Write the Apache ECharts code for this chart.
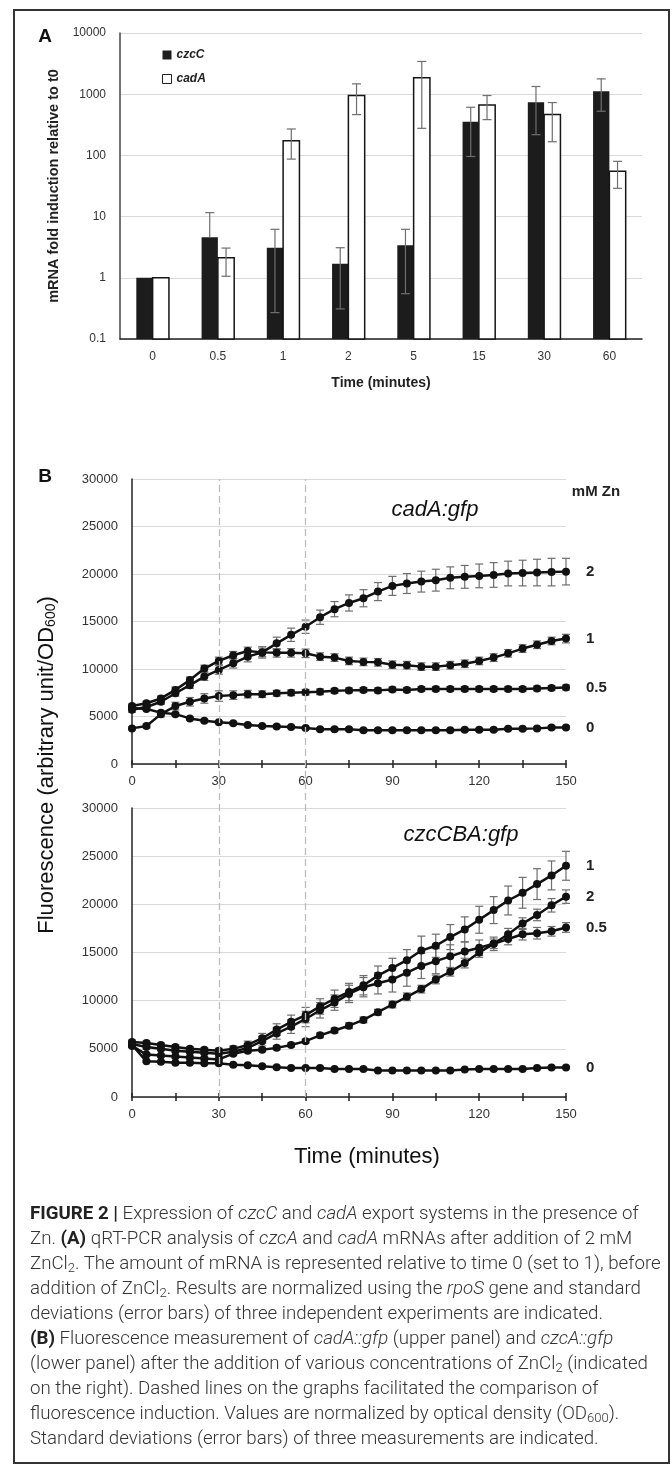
<!DOCTYPE html>
<html>
<head>
<meta charset="utf-8">
<script src="https://cdn.jsdelivr.net/npm/echarts@6/dist/echarts.min.js"></script>
<style>
  html, body { margin: 0; padding: 0; background: #fff; }
  #wrap { position: relative; width: 672px; height: 1465px; }
  #chart { position: absolute; left: 0; top: 0; width: 672px; height: 1465px; }
  #frame {
    position: absolute; left: 13px; top: 9px; width: 657px; height: 1455px;
    box-sizing: border-box; border: 2px solid #333; pointer-events: none;
  }
  #caption {
    position: absolute; left: 30px; top: 1201px;
    font-family: Roboto, "Liberation Sans", sans-serif; font-size: 18.7px; line-height: 25px;
    font-weight: 300; color: #333; white-space: nowrap;
  }
  #caption b { font-weight: 700; color: #222; }
  #caption sub { font-size: 13px; vertical-align: -3px; line-height: 0; }
</style>
</head>
<body>
<div id="wrap">
  <div id="chart"></div>
  <div id="frame"></div>
  <div id="caption">
    <b>FIGURE 2 |</b> Expression of <i>czcC</i> and <i>cadA</i> export systems in the presence of<br>
    Zn. <b>(A)</b> qRT-PCR analysis of <i>czcA</i> and <i>cadA</i> mRNAs after addition of 2 mM<br>
    ZnCl<sub>2</sub>. The amount of mRNA is represented relative to time 0 (set to 1), before<br>
    addition of ZnCl<sub>2</sub>. Results are normalized using the <i>rpoS</i> gene and standard<br>
    deviations (error bars) of three independent experiments are indicated.<br>
    <b>(B)</b> Fluorescence measurement of <i>cadA::gfp</i> (upper panel) and <i>czcA::gfp</i><br>
    (lower panel) after the addition of various concentrations of ZnCl<sub>2</sub> (indicated<br>
    on the right). Dashed lines on the graphs facilitated the comparison of<br>
    fluorescence induction. Values are normalized by optical density (OD<sub>600</sub>).<br>
    Standard deviations (error bars) of three measurements are indicated.
  </div>
</div>
<script>
// ---- panel A: qRT-PCR fold induction (log scale) ----
const categoriesA = ["0", "0.5", "1", "2", "5", "15", "30", "60"];
const czcC = [1, 4.6, 3.1, 1.7, 3.4, 356, 740, 1120];
const czcCLow = [1, 4.6, 0.27, 0.31, 0.55, 96, 218, 527];
const czcCHigh = [1, 11.6, 6.2, 3.1, 6.2, 612, 1336, 1780];
const cadA = [1, 2.13, 174, 950, 1850, 668, 464, 55];
const cadALow = [1, 1.06, 87, 464, 277, 384, 167, 29];
const cadAHigh = [1, 3.06, 270, 1475, 3430, 951, 730, 80];
const yMinA = 0.1;
const yMaxA = 10000;

// ---- panel B: fluorescence, time in minutes ----
const timeB = [0, 5, 10, 15, 20, 25, 30, 35, 40, 45, 50, 55, 60, 65, 70, 75,
  80, 85, 90, 95, 100, 105, 110, 115, 120, 125, 130, 135, 140, 145, 150];
const dashTimes = [30, 60];

// upper panel, cadA:gfp
const cad2 = [5700, 6000, 6550, 7450, 8300, 9200, 9900, 10600, 11300, 11750, 12700, 13600, 14450, 15450, 16300, 16950,
  17450, 18150, 18750, 19000, 19200, 19350, 19600, 19700, 19800, 19900, 20050, 20100, 20150, 20200, 20250];
const cad2Err = [250, 250, 250, 300, 350, 400, 450, 500, 550, 600, 650, 700, 700, 750, 800, 850,
  900, 950, 1000, 1050, 1100, 1150, 1150, 1200, 1250, 1300, 1300, 1350, 1400, 1450, 1400];
const cad1 = [6100, 6400, 6900, 7800, 8850, 10050, 10850, 11450, 11900, 11750, 11700, 11700, 11650, 11300, 11200, 10850,
  10750, 10700, 10450, 10400, 10250, 10250, 10400, 10550, 10850, 11200, 11650, 12150, 12550, 12950, 13200];
const cad1Err = [200, 200, 250, 300, 300, 350, 400, 400, 400, 450, 450, 450, 450, 400, 400, 400,
  400, 400, 400, 400, 400, 400, 400, 400, 400, 400, 400, 400, 400, 400, 450];
const cad05 = [3750, 4000, 5250, 6100, 6550, 6900, 7150, 7250, 7350, 7350, 7450, 7500, 7550, 7600, 7700, 7750,
  7800, 7750, 7850, 7800, 7900, 7900, 7900, 7900, 7900, 7900, 7900, 7900, 7950, 8000, 8050];
const cad05Err = [150, 200, 300, 400, 450, 500, 550, 450, 400, 350, 300, 300, 300, 300, 250, 250,
  250, 250, 250, 250, 250, 250, 250, 250, 250, 250, 250, 250, 250, 250, 250];
const cad0 = [5900, 5800, 5400, 5250, 4800, 4550, 4400, 4300, 4100, 4000, 3950, 3900, 3800, 3650, 3650, 3650,
  3550, 3550, 3550, 3550, 3550, 3550, 3550, 3600, 3600, 3600, 3700, 3700, 3750, 3850, 3850];
const cad0Err = [150, 150, 150, 150, 150, 150, 150, 150, 150, 150, 150, 150, 150, 150, 150, 150,
  150, 150, 150, 150, 150, 150, 150, 150, 150, 150, 150, 150, 150, 150, 150];

// lower panel, czcCBA:gfp
const czc1 = [5700, 5600, 5400, 5200, 5000, 4900, 4800, 5000, 5400, 6100, 7000, 7800, 8500, 9400, 10200, 10900,
  11600, 12600, 13400, 14200, 15200, 15700, 16600, 17400, 18400, 19400, 20400, 21200, 22100, 23000, 24000];
const czc1Err = [200, 200, 200, 200, 200, 200, 250, 300, 400, 500, 600, 700, 800, 800, 900, 900,
  1000, 1000, 1000, 1100, 1500, 1200, 1300, 1300, 1400, 1400, 1500, 1600, 1600, 1500, 1500];
const czc2 = [5300, 4400, 4300, 4200, 4100, 4000, 3900, 4500, 4800, 4900, 5100, 5400, 5800, 6400, 6900, 7400,
  8000, 8800, 9600, 10400, 11200, 12200, 13000, 13900, 15000, 15900, 16900, 18000, 18900, 19900, 20800];
const czc2Err = [150, 150, 150, 150, 150, 150, 150, 200, 200, 200, 200, 200, 200, 250, 250, 300,
  300, 300, 350, 400, 400, 450, 450, 500, 500, 500, 600, 600, 600, 700, 700];
const czc05 = [5500, 5200, 5000, 4800, 4700, 4600, 4500, 4700, 5100, 5800, 6600, 7300, 8100, 9000, 9800, 10700,
  11400, 11800, 12200, 12900, 13600, 14100, 14600, 15100, 15500, 15900, 16400, 16900, 17000, 17200, 17600];
const czc05Err = [200, 200, 200, 200, 200, 200, 300, 300, 400, 500, 600, 700, 800, 800, 800, 900,
  1000, 1100, 1300, 1400, 1300, 1300, 1200, 1000, 800, 700, 600, 600, 600, 500, 500];
const czc0 = [5400, 3700, 3650, 3550, 3550, 3500, 3500, 3350, 3300, 3200, 3100, 3000, 3000, 3000, 2900, 2900,
  2900, 2750, 2750, 2750, 2750, 2750, 2750, 2850, 2900, 2900, 2900, 2900, 3000, 3050, 3050];
const czc0Err = [100, 100, 100, 100, 100, 100, 100, 100, 100, 100, 100, 100, 100, 100, 100, 100,
  100, 100, 100, 100, 100, 100, 100, 100, 100, 100, 100, 100, 100, 100, 100];

const FONT = "Liberation Sans";
const ERR_COLOR = "#6e6e6e";

// bar drawn from the axis minimum (0.1) up to the value, with its error bar
function barRenderer(side, fill, stroke) {
  return function (params, api) {
    const idx = api.value(0);
    const val = api.value(1);
    const lo = api.value(2);
    const hi = api.value(3);
    const band = api.size([1, 0])[0];
    const w = band * 0.25;
    const top = api.coord([idx, val]);
    const base = api.coord([idx, yMinA]);
    const x0 = side < 0 ? top[0] - w : top[0];
    const cx = x0 + w / 2;
    const children = [{
      type: "rect",
      shape: { x: x0, y: top[1], width: w, height: base[1] - top[1] },
      style: { fill: fill, stroke: stroke || null, lineWidth: stroke ? 1.5 : 0 }
    }];
    if (hi > val) {
      const pLo = api.coord([idx, Math.min(lo, val)]);
      const pHi = api.coord([idx, hi]);
      const es = { stroke: ERR_COLOR, lineWidth: 1.2 };
      children.push({ type: "line", shape: { x1: cx, y1: pLo[1], x2: cx, y2: pHi[1] }, style: es });
      children.push({ type: "line", shape: { x1: cx - 4.5, y1: pHi[1], x2: cx + 4.5, y2: pHi[1] }, style: es });
      if (lo < val) {
        children.push({ type: "line", shape: { x1: cx - 4.5, y1: pLo[1], x2: cx + 4.5, y2: pLo[1] }, style: es });
      }
    }
    return { type: "group", children: children };
  };
}

function errRender(params, api) {
  const lo = api.coord([api.value(0), api.value(1)]);
  const hi = api.coord([api.value(0), api.value(2)]);
  const es = { stroke: ERR_COLOR, lineWidth: 1.2 };
  return {
    type: "group",
    children: [
      { type: "line", shape: { x1: lo[0], y1: lo[1], x2: hi[0], y2: hi[1] }, style: es },
      { type: "line", shape: { x1: lo[0] - 4, y1: lo[1], x2: lo[0] + 4, y2: lo[1] }, style: es },
      { type: "line", shape: { x1: hi[0] - 4, y1: hi[1], x2: hi[0] + 4, y2: hi[1] }, style: es }
    ]
  };
}

function lineSeries(name, values, gi) {
  return {
    type: "line",
    name: name,
    xAxisIndex: gi,
    yAxisIndex: gi,
    data: timeB.map((t, i) => [t, values[i]]),
    symbol: "circle",
    symbolSize: 8,
    lineStyle: { color: "#111", width: 2.5 },
    itemStyle: { color: "#111" },
    z: 4,
    endLabel: {
      show: true,
      formatter: "{a}",
      distance: 20,
      fontSize: 15,
      fontWeight: "bold",
      fontFamily: FONT,
      color: "#222"
    }
  };
}

function errSeries(values, errs, gi) {
  return {
    type: "custom",
    xAxisIndex: gi,
    yAxisIndex: gi,
    silent: true,
    z: 3,
    data: timeB.map((t, i) => [t, values[i] - errs[i], values[i] + errs[i]]),
    renderItem: errRender
  };
}

function timeAxis(gi) {
  return {
    gridIndex: gi,
    type: "value",
    min: 0,
    max: 150,
    interval: 15,
    splitLine: { show: false },
    axisLine: { lineStyle: { color: "#222", width: 1.5 } },
    axisTick: { length: 4, lineStyle: { color: "#222", width: 1.5 } },
    axisLabel: {
      margin: 11,
      fontSize: 13,
      color: "#333",
      fontFamily: FONT,
      formatter: v => (v % 30 === 0 ? String(v) : "")
    }
  };
}

// extra axis put on the bottom line only to draw the ticks that point into the plot
function innerTickAxis(gi, h) {
  return {
    gridIndex: gi,
    type: "value",
    position: "top",
    offset: -h,
    min: 0,
    max: 150,
    interval: 15,
    splitLine: { show: false },
    axisLine: { show: false },
    axisLabel: { show: false },
    axisTick: { length: 4, lineStyle: { color: "#222", width: 1.5 } }
  };
}

function fluoAxis(gi) {
  return {
    gridIndex: gi,
    type: "value",
    min: 0,
    max: 30000,
    interval: 5000,
    axisLine: { show: true, lineStyle: { color: "#222", width: 1.5 } },
    axisTick: { show: false },
    splitLine: { lineStyle: { color: "#d9d9d9", width: 1 } },
    axisLabel: { margin: 14, fontSize: 13, color: "#333", fontFamily: FONT, formatter: v => String(v) }
  };
}

const chart = echarts.init(document.getElementById("chart"), null, { renderer: "canvas" });

chart.setOption({
  animation: false,
  backgroundColor: "#fff",
  textStyle: { fontFamily: FONT },
  grid: [
    { left: 120, top: 33, width: 522, height: 306 },
    { left: 132, top: 479, width: 434, height: 285 },
    { left: 132, top: 808, width: 434, height: 289 },
    { left: 132, top: 479, width: 434, height: 618 }
  ],
  legend: {
    left: 157,
    top: 44,
    orient: "vertical",
    itemWidth: 9,
    itemHeight: 9,
    itemGap: 12,
    textStyle: { fontSize: 12, fontStyle: "italic", fontWeight: "bold", color: "#222", fontFamily: FONT },
    data: [
      { name: "czcC", icon: "rect", itemStyle: { color: "#1c1c1c" } },
      { name: "cadA", icon: "rect", itemStyle: { color: "#fff", borderColor: "#222", borderWidth: 1 } }
    ]
  },
  xAxis: [
    {
      gridIndex: 0,
      type: "category",
      data: categoriesA,
      axisLine: { lineStyle: { color: "#222", width: 1.5 } },
      axisTick: { show: false },
      axisLabel: { margin: 12, fontSize: 12, color: "#333", fontFamily: FONT },
      name: "Time (minutes)",
      nameLocation: "middle",
      nameGap: 37,
      nameTextStyle: { fontSize: 14, fontWeight: "bold", color: "#222", fontFamily: FONT }
    },
    timeAxis(1),
    timeAxis(2),
    { gridIndex: 3, type: "value", min: 0, max: 150, show: false },
    innerTickAxis(1, 285),
    innerTickAxis(2, 289)
  ],
  yAxis: [
    {
      gridIndex: 0,
      type: "log",
      logBase: 10,
      min: yMinA,
      max: yMaxA,
      axisLine: { show: true, lineStyle: { color: "#444", width: 1.5 } },
      axisTick: { show: false },
      splitLine: { lineStyle: { color: "#d9d9d9", width: 1 } },
      axisLabel: { margin: 14, fontSize: 12, color: "#333", fontFamily: FONT, formatter: v => String(v) },
      name: "mRNA fold induction relative to t0",
      nameLocation: "middle",
      nameGap: 57,
      nameTextStyle: { fontSize: 14.5, fontWeight: "bold", color: "#222", fontFamily: FONT }
    },
    fluoAxis(1),
    fluoAxis(2),
    { gridIndex: 3, type: "value", min: 0, max: 1, show: false }
  ],
  graphic: [
    { type: "text", x: 45, y: 37, style: { text: "A", fontSize: 19, fontWeight: "bold", fontFamily: FONT, fill: "#111", align: "center", verticalAlign: "middle" } },
    { type: "text", x: 45, y: 477, style: { text: "B", fontSize: 19, fontWeight: "bold", fontFamily: FONT, fill: "#111", align: "center", verticalAlign: "middle" } },
    { type: "text", x: 435, y: 510, style: { text: "cadA:gfp", fontSize: 22, fontStyle: "italic", fontFamily: FONT, fill: "#111", align: "center", verticalAlign: "middle" } },
    { type: "text", x: 461, y: 835, style: { text: "czcCBA:gfp", fontSize: 22, fontStyle: "italic", fontFamily: FONT, fill: "#111", align: "center", verticalAlign: "middle" } },
    { type: "text", x: 596, y: 492, style: { text: "mM Zn", fontSize: 15, fontWeight: "bold", fontFamily: FONT, fill: "#222", align: "center", verticalAlign: "middle" } },
    {
      type: "text", x: 47, y: 765, rotation: Math.PI / 2,
      style: {
        text: "Fluorescence (arbitrary unit/OD{sub|600})",
        fontSize: 22, fontFamily: FONT, fill: "#111", align: "center", verticalAlign: "middle",
        rich: { sub: { fontSize: 14, fontFamily: FONT, fill: "#111", verticalAlign: "bottom", padding: [8, 0, 0, 0] } }
      }
    },
    { type: "text", x: 367, y: 1157, style: { text: "Time (minutes)", fontSize: 22, fontFamily: FONT, fill: "#111", align: "center", verticalAlign: "middle" } }
  ],
  series: [
    {
      type: "custom",
      name: "czcC",
      xAxisIndex: 0,
      yAxisIndex: 0,
      itemStyle: { color: "#1c1c1c" },
      encode: { x: 0, y: 1 },
      data: categoriesA.map((c, i) => [i, czcC[i], czcCLow[i], czcCHigh[i]]),
      renderItem: barRenderer(-1, "#1c1c1c", null)
    },
    {
      type: "custom",
      name: "cadA",
      xAxisIndex: 0,
      yAxisIndex: 0,
      itemStyle: { color: "#fff", borderColor: "#222", borderWidth: 1 },
      encode: { x: 0, y: 1 },
      data: categoriesA.map((c, i) => [i, cadA[i], cadALow[i], cadAHigh[i]]),
      renderItem: barRenderer(1, "#fff", "#151515")
    },
    // dashed guide lines through both fluorescence panels
    {
      type: "line",
      xAxisIndex: 3,
      yAxisIndex: 3,
      data: [[0, -1]],
      showSymbol: false,
      lineStyle: { width: 0 },
      z: 1,
      markLine: {
        silent: true,
        symbol: ["none", "none"],
        label: { show: false },
        lineStyle: { color: "#bdbdbd", type: [7, 4], width: 1.3 },
        data: dashTimes.map(t => ({ xAxis: t }))
      }
    },
    errSeries(cad2, cad2Err, 1),
    errSeries(cad1, cad1Err, 1),
    errSeries(cad05, cad05Err, 1),
    errSeries(cad0, cad0Err, 1),
    lineSeries("2", cad2, 1),
    lineSeries("1", cad1, 1),
    lineSeries("0.5", cad05, 1),
    lineSeries("0", cad0, 1),
    errSeries(czc1, czc1Err, 2),
    errSeries(czc2, czc2Err, 2),
    errSeries(czc05, czc05Err, 2),
    errSeries(czc0, czc0Err, 2),
    lineSeries("1", czc1, 2),
    lineSeries("2", czc2, 2),
    lineSeries("0.5", czc05, 2),
    lineSeries("0", czc0, 2)
  ]
});
</script>
</body>
</html>
